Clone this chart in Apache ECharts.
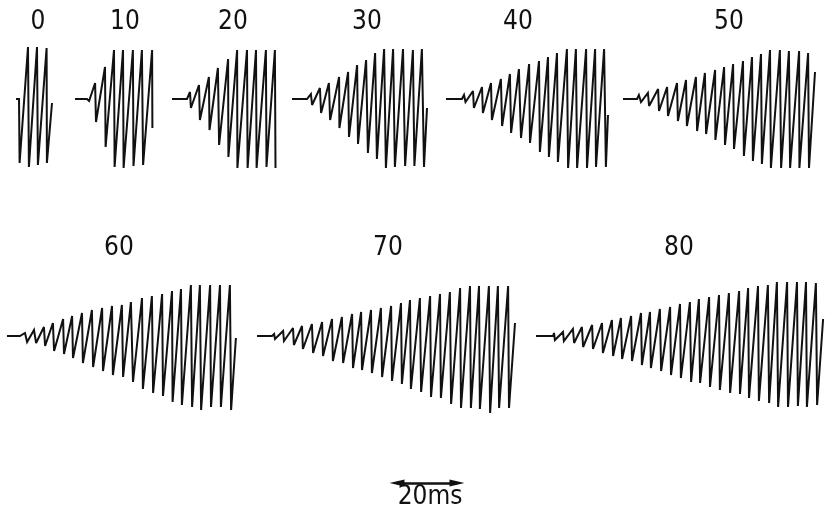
<!DOCTYPE html>
<html>
<head>
<meta charset="utf-8">
<script src="https://cdn.jsdelivr.net/npm/echarts@6/dist/echarts.min.js"></script>
<style>
html,body{margin:0;padding:0;background:#fff;}
#chart{width:831px;height:511px;}
</style>
</head>
<body>
<div id="chart"></div>
<script>
// Panel labels
const labels = ['0', '10', '20', '30', '40', '50', '60', '70', '80'];

// Traces: time (ms from trace start) and amplitude (arbitrary units) at each vertex
const t0 = [0, 1.0, 1.2, 4.0, 4.3, 7.0, 7.3, 10.2, 10.3, 12.0];
const v0 = [0, 0, -64, 52, -68, 52, -66, 51, -64, -4];

const t10 = [0, 4.0, 4.7, 6.7, 7.0, 10.0, 10.2, 13.0, 13.2, 16.0, 16.2, 19.3, 19.5, 22.3, 22.7, 25.7, 25.8];
const v10 = [0, 0, -2, 16, -23, 32, -48, 49, -68, 49, -69, 49, -67, 49, -66, 49, -29];

const t20 = [0, 5.0, 6.0, 6.3, 9.0, 9.3, 12.3, 12.5, 15.3, 15.7, 18.7, 18.8, 21.7, 21.8, 25.0, 25.2, 28.0, 28.2, 31.3, 31.5, 34.3, 34.5];
const v20 = [0, 0, 7, -9, 14, -21, 22, -31, 31, -46, 40, -58, 49, -69, 49, -69, 49, -69, 49, -68, 49, -69];

const t30 = [0, 5.0, 6.3, 6.7, 9.3, 9.7, 12.3, 12.7, 15.7, 15.8, 18.7, 19.0, 21.7, 22.0, 24.7, 25.3, 27.7, 28.3, 30.7, 31.3, 33.7, 34.3, 37.0, 37.7, 40.3, 40.8, 43.3, 44.0, 45.0];
const v30 = [0, 0, 5, -6, 11, -14, 16, -21, 22, -29, 27, -38, 34, -45, 39, -54, 46, -60, 50, -69, 50, -68, 50, -67, 49, -67, 50, -68, -9];

const t40 = [0, 5.3, 6.0, 6.5, 9.0, 9.3, 12.0, 12.3, 15.0, 15.3, 18.3, 18.7, 21.3, 21.7, 24.3, 25.0, 27.7, 28.0, 31.0, 31.3, 34.0, 34.3, 37.0, 37.3, 40.3, 40.7, 43.3, 43.7, 46.7, 47.0, 49.7, 50.0, 52.7, 53.3, 54.0];
const v40 = [0, 0, 4, -3, 8, -9, 12, -14, 16, -21, 20, -27, 25, -34, 30, -39, 35, -44, 38, -53, 42, -58, 46, -63, 50, -69, 50, -69, 50, -69, 50, -68, 50, -68, -16];

const t50 = [0, 4.7, 5.3, 6.0, 8.3, 8.7, 11.7, 12.0, 14.7, 15.0, 18.0, 18.3, 21.0, 21.3, 24.3, 24.7, 27.3, 27.7, 30.7, 30.8, 33.7, 34.0, 36.7, 37.0, 40.0, 40.3, 43.0, 43.3, 46.0, 46.3, 49.0, 49.3, 52.3, 52.7, 55.3, 55.7, 58.7, 58.8, 61.7, 62.0, 64.0];
const v50 = [0, 0, 4, -3, 6, -7, 10, -12, 12, -17, 16, -22, 19, -27, 22, -32, 26, -35, 29, -41, 32, -46, 35, -50, 38, -57, 42, -62, 45, -65, 49, -69, 49, -69, 48, -69, 48, -69, 46, -69, 27];

const t60 = [0, 4.3, 6.0, 6.7, 9.0, 9.7, 12.3, 12.7, 15.3, 15.7, 18.7, 19.0, 21.7, 22.0, 25.0, 25.3, 28.3, 28.7, 31.7, 32.0, 35.0, 35.3, 38.3, 38.7, 41.3, 42.0, 45.0, 45.3, 48.3, 48.7, 51.7, 52.0, 55.0, 55.2, 58.0, 58.3, 61.3, 61.7, 64.3, 64.7, 67.7, 68.0, 71.0, 71.3, 74.3, 74.7, 76.3];
const v60 = [0, 0, 3, -6, 6, -7, 9, -10, 13, -15, 17, -18, 20, -22, 23, -27, 26, -31, 28, -35, 30, -39, 31, -41, 34, -46, 38, -53, 40, -57, 42, -60, 45, -66, 47, -69, 51, -71, 51, -74, 51, -71, 51, -71, 51, -74, -2];

const t70 = [0, 5.0, 5.7, 6.0, 8.7, 9.0, 12.0, 12.3, 15.0, 15.3, 18.3, 18.7, 21.7, 22.0, 25.0, 25.3, 28.3, 28.7, 31.7, 32.0, 34.7, 35.0, 38.0, 38.3, 41.3, 41.7, 44.7, 45.0, 48.0, 48.3, 51.0, 51.3, 54.3, 54.7, 57.7, 58.0, 61.0, 61.3, 64.3, 64.7, 67.7, 68.0, 71.0, 71.3, 74.0, 74.3, 77.3, 77.7, 80.3, 80.7, 83.7, 84.0, 86.0];
const v70 = [0, 0, 2, -3, 5, -5, 8, -9, 10, -13, 12, -17, 14, -20, 17, -25, 19, -27, 22, -32, 24, -34, 26, -37, 28, -41, 30, -45, 33, -48, 36, -53, 38, -56, 40, -61, 42, -62, 44, -68, 48, -72, 50, -72, 50, -73, 50, -77, 50, -72, 50, -72, 13];

const t80 = [0, 5.7, 6.0, 6.3, 9.0, 9.3, 12.3, 12.7, 15.3, 15.7, 18.7, 19.0, 22.0, 22.3, 25.3, 25.7, 28.3, 28.7, 31.7, 32.0, 35.0, 35.3, 38.0, 38.3, 41.3, 41.7, 44.7, 45.0, 48.0, 48.3, 51.3, 51.7, 54.3, 54.7, 57.7, 58.0, 61.0, 61.3, 64.3, 64.7, 67.7, 68.0, 70.7, 71.0, 74.0, 74.3, 77.3, 77.7, 80.3, 80.7, 83.7, 84.0, 87.0, 87.3, 90.0, 90.3, 93.3, 93.7, 95.7];
const v80 = [0, 0, 3, -4, 4, -5, 7, -7, 9, -11, 11, -13, 13, -17, 16, -20, 18, -23, 20, -25, 23, -29, 24, -32, 27, -35, 29, -39, 32, -42, 34, -46, 37, -47, 39, -51, 41, -54, 43, -57, 45, -58, 48, -62, 50, -65, 51, -67, 54, -71, 54, -71, 54, -70, 54, -71, 53, -69, 17];

// Scale bar length (ms) and its label
const scaleBarMs = 20;
const scaleBarLabel = '20ms';

// ---------- layout (kept separate from data) ----------
const T = [t0, t10, t20, t30, t40, t50, t60, t70, t80];
const V = [v0, v10, v20, v30, v40, v50, v60, v70, v80];
const PX_PER_MS = 3;
const panelLeft = [16, 75, 172, 292, 446, 623, 7, 257, 536];
const panelRow = [0, 0, 0, 0, 0, 0, 1, 1, 1];
const rowTop = [39, 276];
const Y_MIN = -80, Y_MAX = 60, GRID_H = 140;
const labelX = [38, 125, 233, 367, 518, 729, 119, 388, 679];
const labelY = [22, 248];
const FONT = "'Liberation Sans Narrow', 'DejaVu Sans Condensed', 'Liberation Sans', sans-serif";

const grid = [], xAxis = [], yAxis = [], series = [], graphic = [];
T.forEach((t, i) => {
  const dur = t[t.length - 1];
  grid.push({ left: panelLeft[i], top: rowTop[panelRow[i]], width: dur * PX_PER_MS, height: GRID_H });
  xAxis.push({ type: 'value', gridIndex: i, min: 0, max: dur, show: false });
  yAxis.push({ type: 'value', gridIndex: i, min: Y_MIN, max: Y_MAX, show: false });
  series.push({
    type: 'line', xAxisIndex: i, yAxisIndex: i,
    data: t.map((tt, j) => [tt, V[i][j]]),
    showSymbol: false, symbol: 'none', clip: false, silent: true,
    lineStyle: { color: '#111', width: 2, join: 'miter', miterLimit: 3 }
  });
  graphic.push({
    type: 'text', x: labelX[i], y: labelY[panelRow[i]],
    style: { text: labels[i], font: '26px ' + FONT, fill: '#111', textAlign: 'center', textVerticalAlign: 'middle' }
  });
});

// scale bar grid
const sb = T.length;
grid.push({ left: 397, top: 473, width: scaleBarMs * PX_PER_MS, height: 20 });
xAxis.push({ type: 'value', gridIndex: sb, min: 0, max: scaleBarMs, show: false });
yAxis.push({ type: 'value', gridIndex: sb, min: -1, max: 1, show: false });
series.push({
  type: 'line', xAxisIndex: sb, yAxisIndex: sb, data: [], silent: true,
  markLine: {
    silent: true, animation: false,
    symbol: ['triangle', 'triangle'], symbolSize: [7, 15],
    label: { show: false },
    lineStyle: { type: 'solid', color: '#111', width: 2.5 },
    data: [[{ coord: [0, 0] }, { coord: [scaleBarMs, 0] }]]
  }
});
graphic.push({
  type: 'text', x: 430, y: 497,
  style: { text: scaleBarLabel, font: '26px ' + FONT, fill: '#111', textAlign: 'center', textVerticalAlign: 'middle' }
});

const chart = echarts.init(document.getElementById('chart'), null, { renderer: 'canvas' });
chart.setOption({
  backgroundColor: '#fff',
  animation: false,
  grid, xAxis, yAxis, series, graphic
});
</script>
</body>
</html>
